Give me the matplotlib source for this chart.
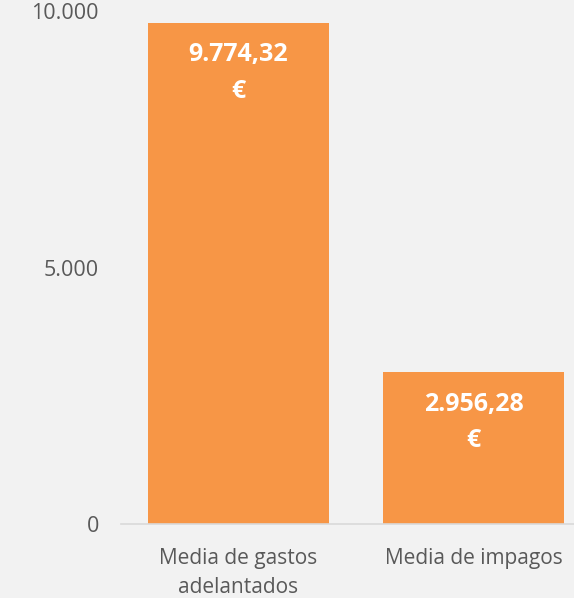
import matplotlib.pyplot as plt

# --- Datos ---
categorias = ['Media de gastos\nadelantados', 'Media de impagos']
valores = [9774.32, 2956.28]
etiquetas = ['9.774,32\n€', '2.956,28\n€']
ticks_y = [0, 5000, 10000]
ticks_y_txt = ['0', '5.000', '10.000']

plt.rcParams['font.family'] = ['Open Sans', 'DejaVu Sans']

fig = plt.figure(figsize=(5.74, 5.98), dpi=100, facecolor='#f2f2f2')
ax = fig.add_axes([121 / 574, 74 / 598, 453 / 574, 512.6 / 598])
ax.set_facecolor('#f2f2f2')

x = list(range(len(categorias)))
ax.bar(x, valores, width=0.77, color='#f79646', zorder=2)

for xi, v, txt in zip(x, valores, etiquetas):
    ax.annotate(txt, xy=(xi, v), xytext=(0, -14), textcoords='offset points',
                ha='center', va='top', color='white', fontsize=18,
                fontweight='bold', linespacing=1.6)

ax.set_xlim(-0.5, 1.428)
ax.set_ylim(0, 10000)
ax.set_xticks(x)
ax.set_xticklabels(categorias, fontsize=15, color='#595959', linespacing=1.5)
ax.set_yticks(ticks_y)
ax.set_yticklabels(ticks_y_txt, fontsize=15.5, color='#595959')
ax.tick_params(axis='both', length=0)
ax.tick_params(axis='y', pad=16)
ax.tick_params(axis='x', pad=17)

for s in ['top', 'right', 'left']:
    ax.spines[s].set_visible(False)
ax.spines['bottom'].set_color('#d9d9d9')
ax.spines['bottom'].set_linewidth(1.2)

fig.savefig('out.png', dpi=100, facecolor=fig.get_facecolor())
